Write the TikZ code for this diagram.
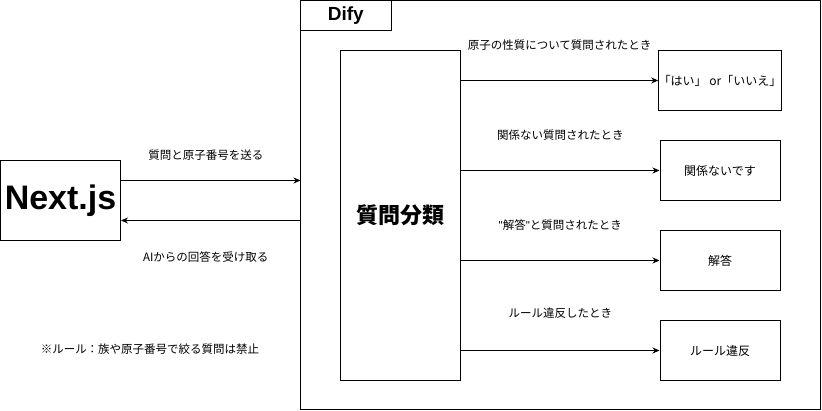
\documentclass[tikz,border=0pt]{standalone}
\usepackage{fontspec}
\setmainfont{Noto Sans CJK JP}
\newfontfamily\headfont{Liberation Sans}
\usetikzlibrary{arrows.meta}
\tikzset{box/.style={draw,line width=1pt,inner sep=0pt,minimum width=120pt,minimum height=60pt,font=\fontsize{12}{14}\selectfont}}
\tikzset{arr/.style={line width=1pt,-{Stealth[length=7pt,width=6pt]}}}
\tikzset{lbl/.style={font=\fontsize{11.5}{13}\selectfont,inner sep=0pt}}
\newcommand{\dq}{{\headfont\symbol{34}}}

\begin{document}
\begin{tikzpicture}[x=1pt,y=-1pt]
      \useasboundingbox[fill=white] (0,0) rectangle (822,411);
      \pgfmathsetmacro{\outx}{720}
      % Dify frame and title tab
      \draw[line width=1pt] (300.5,0.5) rectangle (820,410);
      \node[draw,line width=1pt,inner sep=0pt,minimum width=90.5pt,minimum height=30pt,font=\headfont\bfseries\fontsize{19}{22}\selectfont] (dify) at (345.75,15.5) {Dify};
      \coordinate (difyin) at (300.5,200);
      \node[box,minimum height=80pt,font=\headfont\bfseries\fontsize{34}{38}\selectfont] (nextjs) at (60.5,200.5) {Next.js};
      \node[box,minimum height=330pt,font=\bfseries\fontsize{22}{25}\selectfont] (classify) at (400.5,215.5) {質問分類};
      \node[box] (yesno) at (\outx,80.5) {「はい」 or「いいえ」};
      \node[box] (unrel) at (\outx,170.5) {関係ないです};
      \node[box] (answer) at (\outx,260.5) {解答};
      \node[box] (rule) at (\outx,350.5) {ルール違反};
      \draw[arr] ([yshift=20pt]nextjs.east) -- ([yshift=20pt]nextjs.east -| difyin)
            node[lbl,midway,xshift=-5pt,yshift=25pt] (ask) {質問と原子番号を送る};
      \draw[arr] ([yshift=-20pt]nextjs.east -| difyin) -- ([yshift=-20pt]nextjs.east)
            node[lbl,midway,xshift=-5pt,yshift=-37pt] (reply) {AIからの回答を受け取る};
      \draw[arr] (classify.east |- yesno.west) -- (yesno.west)
            node[lbl,midway,yshift=35pt] (l1) {原子の性質について質問されたとき};
      \draw[arr] (classify.east |- unrel.west) -- (unrel.west)
            node[lbl,midway,yshift=35pt] (l2) {関係ない質問されたとき};
      \draw[arr] (classify.east |- answer.west) -- (answer.west)
            node[lbl,midway,yshift=35pt] (l3) {\dq 解答\dq と質問されたとき};
      \draw[arr] (classify.east |- rule.west) -- (rule.west)
            node[lbl,midway,yshift=37pt] (l4) {ルール違反したとき};
      \node[lbl] (note) at (150,349) {※ルール：族や原子番号で絞る質問は禁止};
    \end{tikzpicture}
\end{document}
